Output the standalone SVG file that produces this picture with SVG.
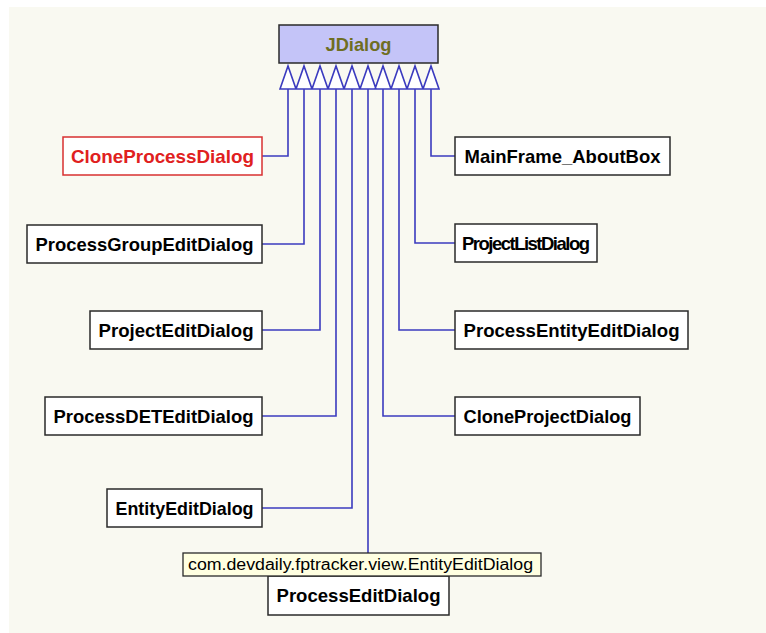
<svg xmlns="http://www.w3.org/2000/svg" width="766" height="633" viewBox="0 0 766 633">
  <style>
    .box { fill: #ffffff; stroke: #2a2a2a; stroke-width: 1.5; }
    .lbl { font-family: "Liberation Sans", Arial, sans-serif; font-weight: bold; font-size: 18.5px; fill: #000; text-anchor: middle; }
    .red .box { stroke: #d83030; }
    .red .lbl { fill: #e02020; }
    .edge { fill: none; stroke: #3b3bbf; stroke-width: 1.6; }
    .head { fill: #ffffff; stroke: #3b3bbf; stroke-width: 1.6; stroke-linejoin: miter; }
  </style>
  <rect x="0" y="0" width="766" height="633" fill="#ffffff"/>
  <rect x="9" y="7" width="757" height="626" fill="#f9f9f1"/>

  <g id="connectors">
    <!-- generalization triangles under JDialog -->
    <path class="head" d="M280,89 L288,66 L296,89 Z M296,89 L304,66 L312,89 Z M312,89 L320,66 L328,89 Z M328,89 L336,66 L344,89 Z M344,89 L352,66 L360,89 Z M360,89 L368,66 L376,89 Z M375,89 L383,66 L391,89 Z M391,89 L399,66 L407,89 Z M407,89 L415,66 L423,89 Z M423,89 L431,66 L439,89 Z"/>
    <!-- left branch -->
    <polyline class="edge" points="288,89 288,156 262,156"/>
    <polyline class="edge" points="304,89 304,244 262,244"/>
    <polyline class="edge" points="320,89 320,330 262,330"/>
    <polyline class="edge" points="336,89 336,416 262,416"/>
    <polyline class="edge" points="352,89 352,508 262,508"/>
    <polyline class="edge" points="368,89 368,553"/>
    <!-- right branch -->
    <polyline class="edge" points="383,89 383,416 455,416"/>
    <polyline class="edge" points="399,89 399,330 455,330"/>
    <polyline class="edge" points="415,89 415,243 455,243"/>
    <polyline class="edge" points="431,89 431,156 455,156"/>
  </g>

  <g id="JDialog">
    <rect x="279" y="25" width="159" height="38" fill="#c4c4f8" stroke="#2a2a2a" stroke-width="1.5"/>
    <text x="358.5" y="50.5" class="lbl" style="fill:#6e6e22" textLength="66" lengthAdjust="spacingAndGlyphs">JDialog</text>
  </g>

  <g id="CloneProcessDialog" class="red">
    <rect class="box" x="63" y="137" width="199" height="38"/>
    <text class="lbl" x="162.5" y="162.5" textLength="183" lengthAdjust="spacingAndGlyphs">CloneProcessDialog</text>
  </g>
  <g id="MainFrame_AboutBox">
    <rect class="box" x="455" y="137" width="215" height="38"/>
    <text class="lbl" x="562.5" y="162.5" textLength="196" lengthAdjust="spacingAndGlyphs">MainFrame_AboutBox</text>
  </g>
  <g id="ProcessGroupEditDialog">
    <rect class="box" x="27" y="225" width="235" height="38"/>
    <text class="lbl" x="144.5" y="250.5" textLength="218" lengthAdjust="spacingAndGlyphs">ProcessGroupEditDialog</text>
  </g>
  <g id="ProjectListDialog">
    <rect class="box" x="455" y="224" width="142" height="38"/>
    <text class="lbl" x="526" y="249.5" textLength="128" lengthAdjust="spacing">ProjectListDialog</text>
  </g>
  <g id="ProjectEditDialog">
    <rect class="box" x="90" y="311" width="172" height="38"/>
    <text class="lbl" x="176" y="336.5" textLength="155" lengthAdjust="spacingAndGlyphs">ProjectEditDialog</text>
  </g>
  <g id="ProcessEntityEditDialog">
    <rect class="box" x="455" y="311" width="233" height="38"/>
    <text class="lbl" x="571.5" y="336.5" textLength="216" lengthAdjust="spacingAndGlyphs">ProcessEntityEditDialog</text>
  </g>
  <g id="ProcessDETEditDialog">
    <rect class="box" x="45" y="397" width="217" height="38"/>
    <text class="lbl" x="153.5" y="422.5" textLength="200" lengthAdjust="spacingAndGlyphs">ProcessDETEditDialog</text>
  </g>
  <g id="CloneProjectDialog">
    <rect class="box" x="455" y="397" width="185" height="38"/>
    <text class="lbl" x="547.5" y="422.5" textLength="168" lengthAdjust="spacingAndGlyphs">CloneProjectDialog</text>
  </g>
  <g id="EntityEditDialog">
    <rect class="box" x="107" y="489" width="155" height="38"/>
    <text class="lbl" x="184.5" y="514.5" textLength="138" lengthAdjust="spacingAndGlyphs">EntityEditDialog</text>
  </g>
  <g id="ProcessEditDialog">
    <rect class="box" x="268" y="576" width="181" height="39"/>
    <text class="lbl" x="358.5" y="602" textLength="164" lengthAdjust="spacingAndGlyphs">ProcessEditDialog</text>
  </g>

  <g id="tooltip">
    <rect x="183" y="553" width="358" height="23" fill="#ffffe1" stroke="#2a2a2a" stroke-width="1.3"/>
    <text x="188" y="570" font-family="Liberation Sans, Arial, sans-serif" font-size="16" fill="#000" textLength="345" lengthAdjust="spacingAndGlyphs">com.devdaily.fptracker.view.EntityEditDialog</text>
  </g>
</svg>
